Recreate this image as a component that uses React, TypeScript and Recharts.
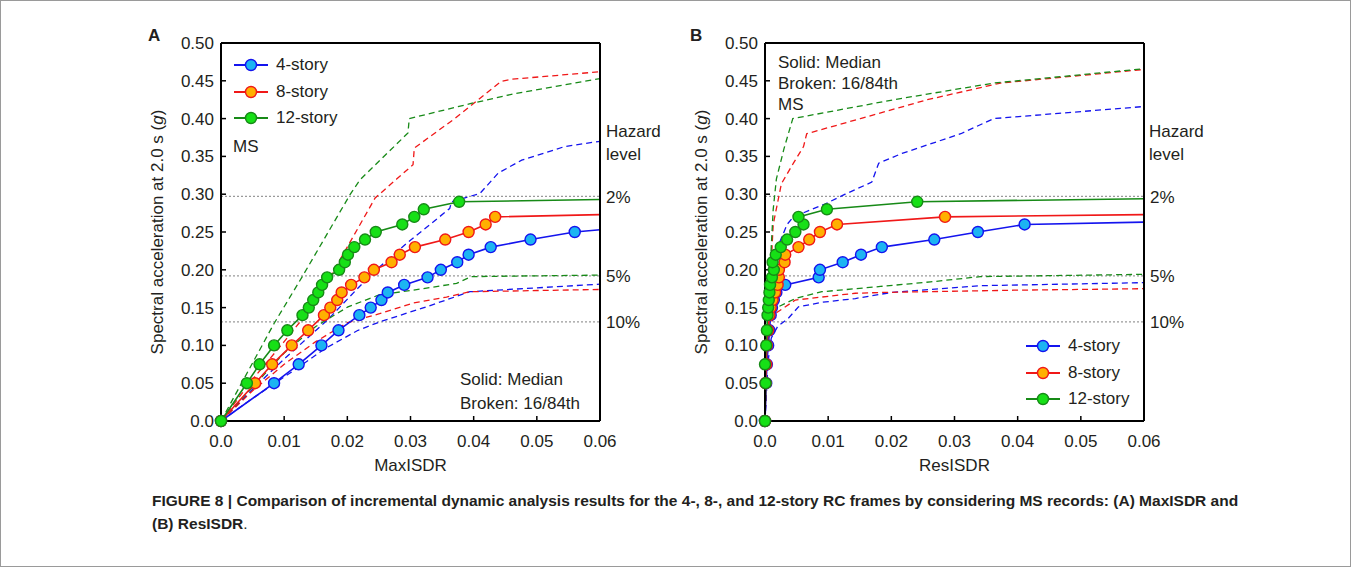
import { LineChart, Line, XAxis, YAxis, ReferenceLine, Legend } from "recharts";

// axis ticks
const X_TICKS = [0, 0.01, 0.02, 0.03, 0.04, 0.05, 0.06];
const Y_TICKS = [0, 0.05, 0.1, 0.15, 0.2, 0.25, 0.3, 0.35, 0.4, 0.45, 0.5];

// hazard levels (Sa at 2.0 s)
const HAZARD_SA = [0.297, 0.192, 0.131];
const HAZARD_LABELS = ["2%", "5%", "10%"];

const SERIES_NAMES = ["4-story", "8-story", "12-story"];

// (A) MaxISDR, medians [drift, Sa]
const A_MED_4 = [[0, 0], [0.0084, 0.05], [0.0123, 0.075], [0.0159, 0.1], [0.0186, 0.12], [0.0219, 0.14], [0.0237, 0.15], [0.0254, 0.16], [0.0264, 0.17], [0.029, 0.18], [0.0327, 0.19], [0.0348, 0.2], [0.0374, 0.21], [0.0392, 0.22], [0.0427, 0.23], [0.049, 0.24], [0.056, 0.25]];
const A_MED_8 = [[0, 0], [0.0054, 0.05], [0.0081, 0.075], [0.0112, 0.1], [0.0138, 0.12], [0.0163, 0.14], [0.0173, 0.15], [0.0184, 0.16], [0.0191, 0.17], [0.0206, 0.18], [0.0227, 0.19], [0.0242, 0.2], [0.027, 0.21], [0.0283, 0.22], [0.0307, 0.23], [0.0355, 0.24], [0.0392, 0.25], [0.0419, 0.26], [0.0434, 0.27]];
const A_MED_12 = [[0, 0], [0.0041, 0.05], [0.0061, 0.075], [0.0084, 0.1], [0.0105, 0.12], [0.0129, 0.14], [0.0139, 0.15], [0.0146, 0.16], [0.0154, 0.17], [0.016, 0.18], [0.0168, 0.19], [0.0187, 0.2], [0.0196, 0.21], [0.0201, 0.22], [0.0211, 0.23], [0.0228, 0.24], [0.0245, 0.25], [0.0287, 0.26], [0.0306, 0.27], [0.0321, 0.28], [0.0377, 0.29]];
const A_TAIL = [0.253, 0.273, 0.293];

// (A) 84th / 16th percentiles
const A_HI_4 = [[0, 0], [0.005, 0.042], [0.01, 0.082], [0.0169, 0.134], [0.0201, 0.162], [0.0239, 0.195], [0.0294, 0.235], [0.0362, 0.281], [0.0365, 0.29], [0.041, 0.301], [0.0439, 0.328], [0.0476, 0.345], [0.0544, 0.363], [0.06, 0.37]];
const A_HI_8 = [[0, 0], [0.005, 0.055], [0.01, 0.105], [0.0149, 0.156], [0.0191, 0.217], [0.0244, 0.295], [0.0278, 0.32], [0.0304, 0.339], [0.0306, 0.361], [0.037, 0.4], [0.0443, 0.449], [0.046, 0.452], [0.06, 0.462]];
const A_HI_12 = [[0, 0], [0.0084, 0.129], [0.0128, 0.19], [0.0204, 0.299], [0.022, 0.319], [0.0296, 0.381], [0.0298, 0.4], [0.0396, 0.42], [0.0465, 0.433], [0.06, 0.453]];
const A_LO_4 = [[0, 0], [0.005, 0.03], [0.0121, 0.07], [0.0165, 0.096], [0.0217, 0.12], [0.0251, 0.131], [0.0325, 0.151], [0.0394, 0.171], [0.06, 0.181]];
const A_LO_8 = [[0, 0], [0.005, 0.04], [0.01, 0.075], [0.015, 0.105], [0.02, 0.13], [0.0251, 0.142], [0.0304, 0.156], [0.0357, 0.164], [0.0394, 0.171], [0.06, 0.174]];
const A_LO_12 = [[0, 0], [0.005, 0.045], [0.01, 0.09], [0.015, 0.125], [0.0201, 0.151], [0.0251, 0.167], [0.0304, 0.173], [0.0373, 0.182], [0.0396, 0.191], [0.06, 0.193]];

// (B) ResISDR, medians
const B_MED_4 = [[0, 0], [0.0002, 0.05], [0.0003, 0.075], [0.0005, 0.1], [0.0007, 0.12], [0.0009, 0.14], [0.0011, 0.15], [0.0014, 0.16], [0.0018, 0.17], [0.0032, 0.18], [0.0085, 0.19], [0.0087, 0.2], [0.0123, 0.21], [0.0152, 0.22], [0.0185, 0.23], [0.0268, 0.24], [0.0337, 0.25], [0.0411, 0.26]];
const B_MED_8 = [[0, 0], [0.0001, 0.05], [0.0002, 0.075], [0.0003, 0.1], [0.0005, 0.12], [0.0007, 0.14], [0.0009, 0.15], [0.0012, 0.16], [0.0016, 0.17], [0.002, 0.18], [0.0022, 0.19], [0.0022, 0.2], [0.0031, 0.21], [0.0032, 0.22], [0.0053, 0.23], [0.007, 0.24], [0.0087, 0.25], [0.0114, 0.26], [0.0285, 0.27]];
const B_MED_12 = [[0, 0], [0.0001, 0.05], [0, 0.075], [0.0002, 0.1], [0.0003, 0.12], [0.0004, 0.14], [0.0005, 0.15], [0.0006, 0.16], [0.0007, 0.17], [0.0008, 0.18], [0.0011, 0.19], [0.0014, 0.2], [0.0012, 0.21], [0.0017, 0.22], [0.0025, 0.23], [0.0035, 0.24], [0.0048, 0.25], [0.0061, 0.26], [0.0053, 0.27], [0.0098, 0.28], [0.0241, 0.29]];
const B_TAIL = [0.263, 0.273, 0.294];

const B_HI_4 = [[0, 0], [0.0004, 0.1], [0.001, 0.18], [0.002, 0.23], [0.0035, 0.26], [0.0045, 0.27], [0.0095, 0.287], [0.0127, 0.3], [0.0169, 0.316], [0.018, 0.341], [0.0217, 0.354], [0.031, 0.38], [0.0362, 0.4], [0.06, 0.416]];
const B_HI_8 = [[0, 0], [0.0003, 0.1], [0.0008, 0.18], [0.0013, 0.26], [0.0026, 0.314], [0.0045, 0.341], [0.0061, 0.363], [0.0066, 0.38], [0.0151, 0.4], [0.0257, 0.425], [0.0373, 0.447], [0.06, 0.465]];
const B_HI_12 = [[0, 0], [0.0003, 0.1], [0.0008, 0.2], [0.0013, 0.28], [0.0018, 0.32], [0.003, 0.36], [0.0044, 0.4], [0.0204, 0.425], [0.0362, 0.447], [0.06, 0.466]];
const B_LO_4 = [[0, 0], [0.0005, 0.08], [0.001, 0.11], [0.002, 0.125], [0.0037, 0.136], [0.0053, 0.151], [0.009, 0.157], [0.0143, 0.162], [0.02, 0.17], [0.0341, 0.179], [0.06, 0.183]];
const B_LO_8 = [[0, 0], [0.0004, 0.1], [0.001, 0.13], [0.0016, 0.142], [0.0048, 0.16], [0.0143, 0.169], [0.0183, 0.17], [0.0394, 0.173], [0.06, 0.175]];
const B_LO_12 = [[0, 0], [0.0003, 0.1], [0.0008, 0.14], [0.0011, 0.147], [0.0048, 0.162], [0.009, 0.171], [0.0183, 0.178], [0.0262, 0.184], [0.0341, 0.191], [0.06, 0.194]];

const LINE_COLORS = ["#1414ee", "#f01818", "#178a17"];
const DOT_FILLS = ["#1cb4f2", "#ffb000", "#16e016"];
const FONT = "'Liberation Sans', Arial, sans-serif";
const INK = "#231f20";

const toRows = (pts: number[][]) => pts.map(([x, y]) => ({ x, y }));
const withTail = (pts: number[][], tail: number) => [...toRows(pts), { x: 0.06, y: tail, tail: true }];

const makeDot = (stroke: string, fill: string) => (props: any) => {
  const { cx, cy, payload, index } = props;
  if (payload.tail) return <g key={`t${index}`} />;
  return <circle key={`d${index}`} cx={cx} cy={cy} r={5.5} fill={fill} stroke={stroke} strokeWidth={1.4} />;
};

const YTitle = (props: any) => {
  const { viewBox } = props;
  const cx = viewBox.x + 27;
  const cy = viewBox.y + viewBox.height / 2;
  return (
    <text x={cx} y={cy} transform={`rotate(-90 ${cx} ${cy})`} textAnchor="middle" dominantBaseline="central" fontSize={17} fill={INK}>
      Spectral acceleration at 2.0 s (<tspan fontStyle="italic">g</tspan>)
    </text>
  );
};

const XTitle = (props: any) => {
  const { viewBox, text } = props;
  return (
    <text x={viewBox.x + viewBox.width / 2} y={viewBox.y + 44} textAnchor="middle" dominantBaseline="central" fontSize={17} fill={INK}>
      {text}
    </text>
  );
};

const LegendBox = () => (
  <div style={{ fontFamily: FONT, fontSize: 17, color: INK }}>
    {SERIES_NAMES.map((name, i) => (
      <div key={name} style={{ display: "flex", alignItems: "center", height: 26.5 }}>
        <svg width={36} height={14} style={{ marginRight: 7 }}>
          <line x1={1} x2={35} y1={7} y2={7} stroke={LINE_COLORS[i]} strokeWidth={2} />
          <circle cx={18} cy={7} r={5.5} fill={DOT_FILLS[i]} stroke={LINE_COLORS[i]} strokeWidth={1.4} />
        </svg>
        <span>{name}</span>
      </div>
    ))}
  </div>
);

const fmt = (v: number) => (v === 0 ? "0.0" : v.toFixed(2));

type PanelProps = {
  med: number[][][];
  tails: number[];
  hi: number[][][];
  lo: number[][][];
  xTitle: string;
  legendLeft: number;
  legendTop: number;
};

const Panel = ({ med, tails, hi, lo, xTitle, legendLeft, legendTop }: PanelProps) => {
  const axisStyle = { stroke: "#000", strokeWidth: 2 };
  const tickStyle = { stroke: "#000", strokeWidth: 1.5 };
  return (
    <LineChart width={571} height={456} margin={{ top: 22, right: 100, bottom: 0, left: 0 }}>
      <XAxis dataKey="x" type="number" domain={[0, 0.06]} ticks={X_TICKS} tickFormatter={fmt} height={55}
        tickSize={-5} tickMargin={19} axisLine={axisStyle} tickLine={tickStyle}
        tick={{ fill: INK, fontSize: 17 }} label={(p: any) => <XTitle {...p} text={xTitle} />} />
      <XAxis xAxisId="top" orientation="top" dataKey="x" type="number" domain={[0, 0.06]} ticks={X_TICKS} height={1}
        tickSize={-5} axisLine={axisStyle} tickLine={tickStyle} tick={false} />
      <YAxis type="number" domain={[0, 0.5]} ticks={Y_TICKS} tickFormatter={fmt} width={91}
        tickSize={-5} tickMargin={12} axisLine={axisStyle} tickLine={tickStyle}
        tick={{ fill: INK, fontSize: 17 }} label={(p: any) => <YTitle {...p} />} />
      <YAxis yAxisId="right" orientation="right" type="number" domain={[0, 0.5]} ticks={Y_TICKS} width={1}
        tickSize={-5} axisLine={axisStyle} tickLine={tickStyle} tick={false} />
      {HAZARD_SA.map((sa, i) => (
        <ReferenceLine key={sa} y={sa} stroke="#9a9a9a" strokeWidth={1.2} strokeDasharray="2 2"
          label={{ value: HAZARD_LABELS[i], position: "right", offset: 6, fill: INK, fontSize: 17 }} />
      ))}
      {[0, 1, 2].map((i) => (
        <Line key={`hi${i}`} data={toRows(hi[i])} dataKey="y" stroke={LINE_COLORS[i]} strokeWidth={1.3}
          strokeDasharray="6 4" dot={false} activeDot={false} isAnimationActive={false} />
      ))}
      {[0, 1, 2].map((i) => (
        <Line key={`lo${i}`} data={toRows(lo[i])} dataKey="y" stroke={LINE_COLORS[i]} strokeWidth={1.3}
          strokeDasharray="6 4" dot={false} activeDot={false} isAnimationActive={false} />
      ))}
      {[0, 1, 2].map((i) => (
        <Line key={`med${i}`} data={withTail(med[i], tails[i])} dataKey="y" stroke={LINE_COLORS[i]} strokeWidth={1.6}
          dot={makeDot(LINE_COLORS[i], DOT_FILLS[i])} activeDot={false} isAnimationActive={false} />
      ))}
      <Legend layout="vertical" align="center" verticalAlign="middle" content={() => <LegendBox />}
        wrapperStyle={{ left: legendLeft, top: legendTop, width: 140, height: 80 }} />
    </LineChart>
  );
};

const Txt = ({ left, top, children, bold }: any) => (
  <div style={{ position: "absolute", left, top, fontSize: 17, lineHeight: "20px", fontWeight: bold ? 700 : 400, whiteSpace: "nowrap" }}>
    {children}
  </div>
);

const App = () => (
  <div style={{ position: "absolute", left: 0, top: 0, width: 1351, height: 567, background: "#fff", fontFamily: FONT, color: INK, boxShadow: "inset 0 0 0 1px #9a9a9a" }}>
    <div style={{ position: "absolute", left: 130, top: 20 }}>
      <Panel med={[A_MED_4, A_MED_8, A_MED_12]} tails={A_TAIL} hi={[A_HI_4, A_HI_8, A_HI_12]} lo={[A_LO_4, A_LO_8, A_LO_12]}
        xTitle="MaxISDR" legendLeft={103} legendTop={32} />
    </div>
    <div style={{ position: "absolute", left: 674, top: 20 }}>
      <Panel med={[B_MED_4, B_MED_8, B_MED_12]} tails={B_TAIL} hi={[B_HI_4, B_HI_8, B_HI_12]} lo={[B_LO_4, B_LO_8, B_LO_12]}
        xTitle="ResISDR" legendLeft={351} legendTop={313} />
    </div>

    <Txt left={148} top={26} bold>A</Txt>
    <Txt left={233} top={137}>MS</Txt>
    <Txt left={460} top={370}>Solid: Median</Txt>
    <Txt left={460} top={394}>Broken: 16/84th</Txt>
    <Txt left={606} top={122}>Hazard</Txt>
    <Txt left={606} top={145}>level</Txt>

    <Txt left={690} top={26} bold>B</Txt>
    <Txt left={778} top={53}>Solid: Median</Txt>
    <Txt left={778} top={74}>Broken: 16/84th</Txt>
    <Txt left={778} top={95}>MS</Txt>
    <Txt left={1149} top={122}>Hazard</Txt>
    <Txt left={1149} top={145}>level</Txt>

    <div style={{ position: "absolute", left: 152, top: 489, fontSize: 15.5, lineHeight: "23px", fontWeight: 700, whiteSpace: "nowrap" }}>
      FIGURE 8 | Comparison of incremental dynamic analysis results for the 4-, 8-, and 12-story RC frames by considering MS records: (A) MaxISDR and
      <br />
      (B) ResISDR<span style={{ fontWeight: 400 }}>.</span>
    </div>
  </div>
);

export default App;
